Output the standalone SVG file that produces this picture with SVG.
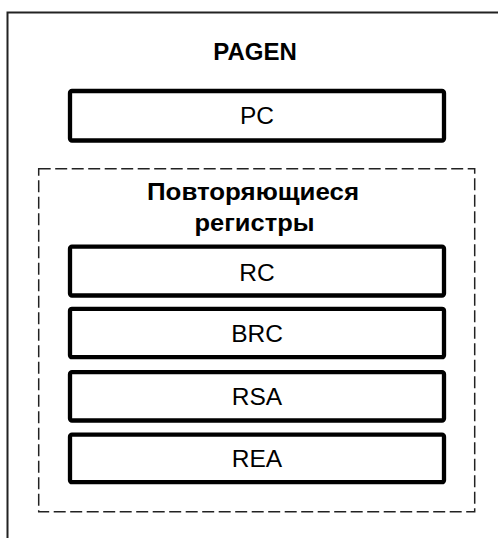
<svg xmlns="http://www.w3.org/2000/svg" width="498" height="538" viewBox="0 0 498 538">
<style>
.reg{fill:#fff;stroke:#000;stroke-width:4.3}
.lbl{font-family:"Liberation Sans",Arial,sans-serif;font-size:24.5px;fill:#000;text-anchor:middle}
.ttl{font-family:"Liberation Sans",Arial,sans-serif;font-size:24px;font-weight:bold;fill:#000;text-anchor:middle}
</style>
<rect width="498" height="538" fill="#fff"/>
<g id="pagen">
<path d="M7.5,538 V12.5 H498" fill="none" stroke="#222" stroke-width="2"/>
<text class="ttl" x="255" y="59.5">PAGEN</text>
</g>
<g id="pc">
<rect class="reg" x="70" y="91" width="374" height="49.5" rx="2"/>
<text class="lbl" x="257" y="123.5">PC</text>
</g>
<g id="repeat">
<rect x="38.7" y="168.7" width="436" height="343" fill="none" stroke="#222" stroke-width="1.5" stroke-dasharray="12,4.5"/>
<text class="ttl" x="253" y="199.5" textLength="212" lengthAdjust="spacingAndGlyphs">Повторяющиеся</text>
<text class="ttl" x="254.5" y="231" textLength="120" lengthAdjust="spacingAndGlyphs">регистры</text>
</g>
<g id="rc">
<rect class="reg" x="70" y="246.7" width="374" height="48.8" rx="2"/>
<text class="lbl" x="257" y="280.5">RC</text>
</g>
<g id="brc">
<rect class="reg" x="70" y="308.8" width="374" height="48.4" rx="2"/>
<text class="lbl" x="257" y="341.7">BRC</text>
</g>
<g id="rsa">
<rect class="reg" x="70" y="372.2" width="374" height="48.3" rx="2"/>
<text class="lbl" x="257" y="405">RSA</text>
</g>
<g id="rea">
<rect class="reg" x="70" y="434.7" width="374" height="47.5" rx="2"/>
<text class="lbl" x="257" y="467.3">REA</text>
</g>
<g id="connectors"/>
</svg>
